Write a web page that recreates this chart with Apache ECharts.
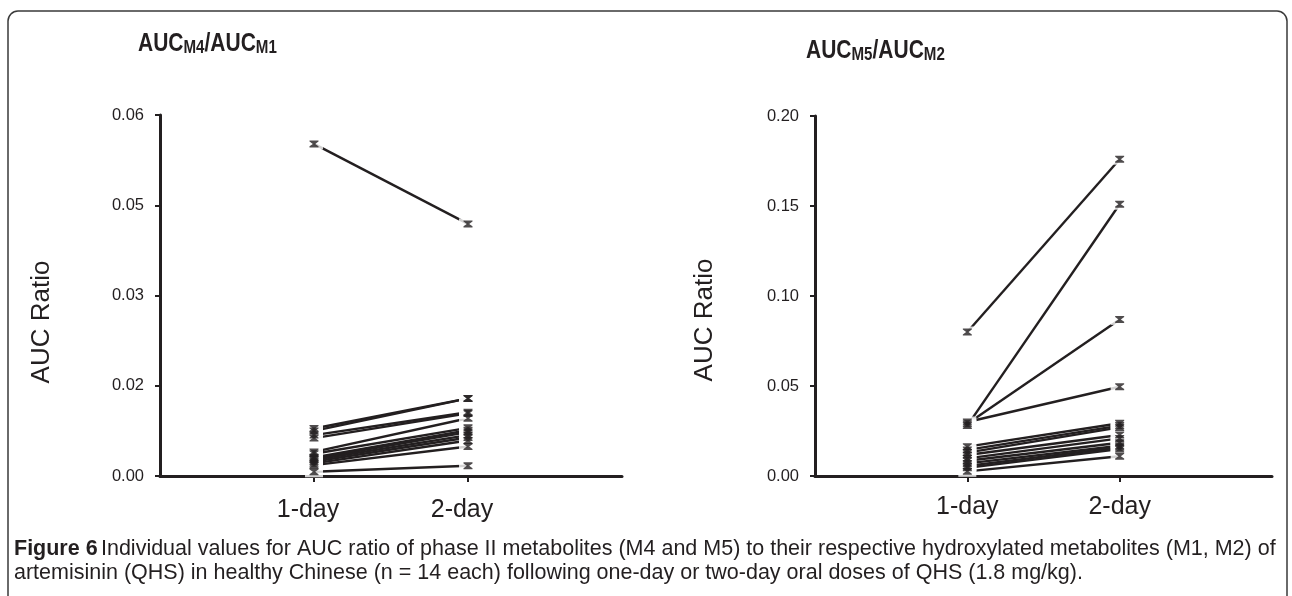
<!DOCTYPE html>
<html><head><meta charset="utf-8">
<script src="https://cdn.jsdelivr.net/npm/echarts@6/dist/echarts.min.js"></script>
<style>html,body{margin:0;padding:0;background:#fff}#c{width:1292px;height:596px}</style>
</head><body><div id="c"></div>
<script>
// ---- data ----
const xCategories = ['1-day', '2-day'];
const leftYTicks = ['0.00', '0.02', '0.03', '0.05', '0.06'];
const rightYTicks = ['0.00', '0.05', '0.10', '0.15', '0.20'];
// AUC M4 / AUC M1, 14 subjects
const left1Day = [0.0552, 0.0079, 0.0075, 0.0068, 0.0063, 0.0040, 0.0037, 0.0031, 0.0029, 0.0027, 0.0024, 0.0021, 0.0018, 0.0007];
const left2Day = [0.0419, 0.0129, 0.0129, 0.0106, 0.0104, 0.0096, 0.0080, 0.0076, 0.0073, 0.0068, 0.0064, 0.0059, 0.0049, 0.0017];
// AUC M5 / AUC M2, 14 subjects
const right1Day = [0.080, 0.028, 0.029, 0.030, 0.0163, 0.0145, 0.0130, 0.0117, 0.0098, 0.0085, 0.0070, 0.0056, 0.0046, 0.0026];
const right2Day = [0.176, 0.151, 0.087, 0.0496, 0.0293, 0.0280, 0.0270, 0.0228, 0.0209, 0.0185, 0.0168, 0.0160, 0.0150, 0.0110];

// ---- chart ----
const INK = '#231f20';
const FONT = '"Liberation Sans", Arial, Helvetica, sans-serif';
const HOURGLASS = 'path://M0,0 L10,0 L10,1.6 L6.3,5 L10,8.4 L10,10 L0,10 L0,8.4 L3.7,5 L0,1.6 Z';

function buildSeries(d1, d2, gi) {
  const s = [];
  d1.forEach((v, i) => {
    s.push({
      type: 'line', xAxisIndex: gi, yAxisIndex: gi,
      data: [[1, v], [2, d2[i]]],
      showSymbol: false, silent: true, z: 2,
      lineStyle: { color: INK, width: 2.4 }
    });
  });
  const pts = [];
  d1.forEach((v, i) => { pts.push([1, v]); pts.push([2, d2[i]]); });
  s.push({
    type: 'scatter', xAxisIndex: gi, yAxisIndex: gi, data: pts, clip: false,
    symbol: 'rect', symbolSize: [18, 11], itemStyle: { color: '#ffffff' }, z: 3, silent: true
  });
  s.push({
    type: 'scatter', xAxisIndex: gi, yAxisIndex: gi, data: pts, clip: false,
    symbol: HOURGLASS, symbolSize: [9, 7], itemStyle: { color: INK }, z: 4, silent: true
  });
  return s;
}

function xAxis(gi, labelMargin, labelPad) {
  return {
    type: 'value', gridIndex: gi, min: 0, max: 3, interval: 1,
    axisLine: { show: true, lineStyle: { color: INK, width: 3 } },
    axisTick: { show: true, customValues: [1, 2], length: 6, lineStyle: { color: INK, width: 2 } },
    axisLabel: {
      show: true, customValues: [1, 2], margin: labelMargin, padding: labelPad,
      formatter: v => xCategories[Math.round(v) - 1] || '',
      color: INK, fontSize: 25, fontFamily: FONT
    },
    splitLine: { show: false }
  };
}
function yAxis(gi, max, interval, ticks) {
  return {
    type: 'value', gridIndex: gi, min: 0, max: max, interval: interval,
    axisLine: { show: true, lineStyle: { color: INK, width: 3 } },
    axisTick: { show: true, length: 5, lineStyle: { color: INK, width: 2 } },
    axisLabel: {
      margin: 16, color: INK, fontSize: 16.5, fontFamily: FONT,
      formatter: v => ticks[Math.round(v / interval)]
    },
    splitLine: { show: false }
  };
}

const chart = echarts.init(document.getElementById('c'), null, { renderer: 'canvas' });
const titleRich = {
  b: { fontSize: 25, fontWeight: 'bold', fill: INK, fontFamily: FONT, verticalAlign: 'bottom', lineHeight: 28 },
  s: { fontSize: 18, fontWeight: 'bold', fill: INK, fontFamily: FONT, verticalAlign: 'bottom', lineHeight: 25 }
};
chart.setOption({
  animation: false,
  backgroundColor: '#ffffff',
  grid: [
    { left: 160, top: 115, width: 462, height: 361 },
    { left: 815, top: 116, width: 457, height: 360 }
  ],
  xAxis: [xAxis(0, 22, [0, 12, 0, 0]), xAxis(1, 19, 0)],
  yAxis: [yAxis(0, 0.06, 0.015, leftYTicks), yAxis(1, 0.2, 0.05, rightYTicks)],
  series: buildSeries(left1Day, left2Day, 0).concat(buildSeries(right1Day, right2Day, 1)),
  graphic: [
    { type: 'rect', silent: true, z: 0, shape: { x: 8, y: 11, width: 1279, height: 600, r: 10 },
      style: { fill: 'none', stroke: '#3a3a3a', lineWidth: 1.5 } },
    { type: 'text', x: 138, y: 43, scaleX: 0.84, silent: true,
      style: { text: '{b|AUC}{s|M4}{b|/AUC}{s|M1}', rich: titleRich, verticalAlign: 'middle', align: 'left' } },
    { type: 'text', x: 806, y: 50, scaleX: 0.84, silent: true,
      style: { text: '{b|AUC}{s|M5}{b|/AUC}{s|M2}', rich: titleRich, verticalAlign: 'middle', align: 'left' } },
    { type: 'text', x: 42, y: 322, rotation: Math.PI / 2, silent: true,
      style: { text: 'AUC Ratio', fill: INK, fontSize: 26, fontFamily: FONT, align: 'center', verticalAlign: 'middle' } },
    { type: 'text', x: 705, y: 320, rotation: Math.PI / 2, silent: true,
      style: { text: 'AUC Ratio', fill: INK, fontSize: 26, fontFamily: FONT, align: 'center', verticalAlign: 'middle' } },
    { type: 'text', x: 14, y: 549, scaleX: 1.0, silent: true,
      style: {
        text: '{b|Figure 6} {n|Individual values for AUC ratio of phase II metabolites (M4 and M5) to their respective hydroxylated metabolites (M1, M2) of}',
        rich: {
          b: { fontSize: 21.5, fontWeight: 'bold', fill: INK, fontFamily: FONT },
          n: { fontSize: 21.5, fill: INK, fontFamily: FONT }
        },
        verticalAlign: 'middle', align: 'left'
      } },
    { type: 'text', x: 14, y: 573, scaleX: 1.0, silent: true,
      style: {
        text: 'artemisinin (QHS) in healthy Chinese (n = 14 each) following one-day or two-day oral doses of QHS (1.8 mg/kg).',
        fill: INK, fontSize: 21.5, fontFamily: FONT, verticalAlign: 'middle', align: 'left'
      } }
  ]
});
</script>
</body></html>
